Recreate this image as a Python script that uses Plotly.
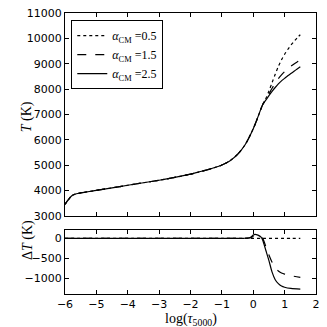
import plotly.graph_objects as go

# top panel: T(log tau) for the three mixing-length values
log_tau_common = [-6.0, -5.9, -5.8, -5.7, -5.5, -5.0, -4.5, -4.0, -3.5, -3.0, -2.5, -2.0,
                  -1.75, -1.5, -1.25, -1.0, -0.75, -0.5, -0.25, 0.0, 0.15]
T_common = [3450, 3620, 3770, 3840, 3900, 4000, 4100, 4200, 4300, 4400, 4510, 4640,
            4720, 4800, 4890, 5000, 5160, 5420, 5820, 6430, 6900]

log_tau_tail = [0.3, 0.4, 0.5, 0.6, 0.7, 0.8, 0.9, 1.0, 1.1, 1.2, 1.3, 1.4, 1.5]
T_a05 = [7380, 7620, 7920, 8250, 8580, 8890, 9150, 9370, 9560, 9730, 9880, 10020, 10140]
T_a15 = [7380, 7580, 7800, 8030, 8230, 8410, 8560, 8690, 8800, 8900, 8990, 9070, 9140]
T_a25 = [7380, 7560, 7740, 7910, 8060, 8200, 8320, 8420, 8520, 8610, 8700, 8790, 8880]

# bottom panel: Delta T relative to alpha=0.5
log_tau_d = [-6.0, -3.0, -1.0, -0.3, -0.1, 0.0, 0.05, 0.15, 0.25, 0.3, 0.4, 0.5, 0.6,
             0.7, 0.8, 0.9, 1.0, 1.2, 1.5]
dT_a05 = [0, 0, 0, 0, 0, 0, 0, 0, 0, 0, 0, 0, 0, 0, 0, 0, 0, 0, 0]
dT_a15 = [0, 0, 0, 0, 10, 50, 60, 60, 40, 0, -200, -420, -600, -730, -820, -870, -900, -940, -980]
dT_a25 = [0, 0, 0, 0, 20, 80, 100, 80, 30, -40, -300, -560, -850, -1040, -1140, -1200, -1230, -1260, -1280]

labels = ['0.5', '1.5', '2.5']
dashes = ['dot', 'dash', 'solid']

serif = 'Liberation Serif'
sans = 'DejaVu Sans'

fig = go.Figure()

tails = [T_a05, T_a15, T_a25]
for lab, dash, tail in zip(labels, dashes, tails):
    fig.add_trace(go.Scatter(
        x=log_tau_common + log_tau_tail, y=T_common + tail,
        mode='lines', line=dict(color='black', width=1.2, dash=dash, shape='spline', smoothing=0.8),
        name=f'<i>α</i><sub>CM</sub> ={lab}', xaxis='x', yaxis='y'))

for dash, dT in zip(dashes, [dT_a05, dT_a15, dT_a25]):
    fig.add_trace(go.Scatter(
        x=log_tau_d, y=dT, mode='lines',
        line=dict(color='black', width=1.2, dash=dash, shape='spline', smoothing=0.8),
        showlegend=False, xaxis='x2', yaxis='y2'))

axis_style = dict(showline=True, linecolor='black', linewidth=1, mirror='allticks',
                  ticks='inside', ticklen=4, tickcolor='black', showgrid=False,
                  zeroline=False, tickformat='d',
                  tickfont=dict(family=sans, size=11, color='black'))

fig.update_layout(
    width=327, height=327,
    margin=dict(l=65, r=8, t=7, b=33),
    plot_bgcolor='white', paper_bgcolor='white',
    xaxis=dict(domain=[0, 1], range=[-6, 2], dtick=1, anchor='y',
               showticklabels=False, matches='x2', **axis_style),
    yaxis=dict(domain=[0.2787, 1], range=[3000, 11000], dtick=1000, anchor='x',
               **axis_style),
    xaxis2=dict(domain=[0, 1], range=[-6, 2], dtick=1, anchor='y2', **axis_style),
    yaxis2=dict(domain=[0, 0.2265], range=[-1400, 200], tickvals=[0, -500, -1000],
                anchor='x2', **axis_style),
    legend=dict(x=0.025, y=0.975, xanchor='left', yanchor='top',
                bgcolor='white', bordercolor='black', borderwidth=1,
                font=dict(family=serif, size=12, color='black'),
                tracegroupgap=0, itemwidth=30),
)

# axis titles placed as annotations
fig.add_annotation(text='<i>T</i> (K)', x=-0.19, y=0.63, xref='paper', yref='paper',
                   showarrow=False, textangle=-90,
                   font=dict(family=serif, size=14, color='black'))
fig.add_annotation(text='Δ<i>T</i> (K)', x=-0.19, y=0.115, xref='paper', yref='paper',
                   showarrow=False, textangle=-90,
                   font=dict(family=serif, size=14, color='black'))
fig.add_annotation(text='log(<i>τ</i><sub>5000</sub>)', x=0.5, y=-0.09,
                   xref='paper', yref='paper', showarrow=False, yanchor='middle',
                   font=dict(family=serif, size=14, color='black'))

# drop the default page margin so the figure sits at the window's corner
fig.write_html("out.html", config={'displayModeBar': False},
               post_script="document.body.style.margin='0';")
